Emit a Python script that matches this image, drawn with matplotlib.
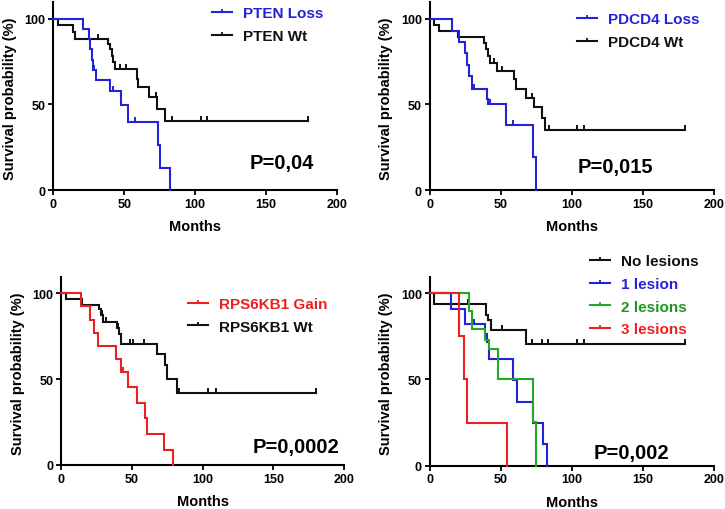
import matplotlib
matplotlib.use('Agg')
import matplotlib.pyplot as plt
from matplotlib.path import Path
from matplotlib.lines import Line2D
import numpy as np

plt.rcParams['font.family'] = ['Liberation Sans', 'DejaVu Sans']
plt.rcParams['font.weight'] = 'bold'

# ---------------- data ----------------
x_ticks = [0, 50, 100, 150, 200]
y_ticks = [0, 50, 100]
x_label = "Months"
y_label = "Survival probability (%)"

# Panel A: PTEN
pten_loss_t = [0, 21, 25, 26, 27, 28, 30, 40, 48, 53, 74, 75, 82.5]
pten_loss_s = [100, 93.8, 88, 82, 76, 70, 64, 58, 49.5, 39.5, 26.5, 13, 0]
pten_loss_c = [28.5, 42, 58]
pten_wt_t = [0, 3.5, 13.7, 15.3, 38.8, 40, 41.6, 42.4, 43.5, 59, 60, 67.8, 73, 78.5, 180]
pten_wt_s = [100, 96.2, 92.3, 88.2, 85, 82, 78, 74.5, 70.5, 65, 60, 54, 47.5, 40.5, 40.5]
pten_wt_c = [25.4, 31.8, 47, 51.5, 72.5, 83.5, 104, 108.7, 180]

# Panel B: PDCD4
pdcd4_loss_t = [0, 15.4, 20.7, 25, 26.3, 27.8, 29.5, 40, 41, 54, 73, 75]
pdcd4_loss_s = [100, 93, 86.2, 80, 73, 66.5, 59.2, 53, 50.4, 37.8, 19, 0]
pdcd4_loss_c = [31, 42.5, 58.7]
pdcd4_wt_t = [0, 2.8, 6.8, 20, 38.5, 39.7, 41, 42.5, 47.4, 59.2, 60.8, 67.8, 73.7, 79.1, 81.5, 180]
pdcd4_wt_s = [100, 96.2, 92.5, 89.5, 85.9, 82, 78, 73.8, 69.4, 64.5, 59, 53.5, 48.4, 41.9, 34.9, 34.9]
pdcd4_wt_c = [45, 51, 72, 83.8, 103.8, 108.5, 180]

# Panel C: RPS6KB1
rps_gain_t = [0, 14, 20.5, 23.5, 26.3, 38.8, 42.1, 47.1, 53.4, 59.3, 60.5, 73, 78.8]
rps_gain_s = [100, 92.3, 84.6, 76.9, 69.2, 61.5, 53.8, 45.5, 36, 27.2, 18, 9, 0]
rps_gain_c = [44]
rps_wt_t = [0, 3.5, 14.6, 26.5, 28, 30, 39.3, 41, 42.7, 67.5, 73.4, 74.6, 81.6, 180]
rps_wt_s = [100, 96.6, 93.2, 90.5, 87, 83, 79.5, 76.3, 70.5, 64.5, 58, 50, 42, 42]
rps_wt_c = [29, 31.5, 40.5, 48.7, 51, 58.6, 83.5, 104, 109.4, 180]

# Panel D: number of lesions
nolesion_t = [0, 3, 39.5, 41.3, 43, 67.8, 180]
nolesion_s = [100, 93.7, 87.5, 84.5, 78.5, 70.6, 70.6]
nolesion_c = [27, 51, 72, 79, 83.3, 103.8, 108.5, 180]
lesion1_t = [0, 15.3, 25.1, 39, 40, 41.8, 58.9, 61.3, 73, 80, 82.6]
lesion1_s = [100, 91, 82, 76.5, 71.5, 62, 49.5, 37, 24.8, 12.4, 0]
lesion1_c = [31, 48.3]
lesion2_t = [0, 27.9, 30, 39, 42, 48.2, 72.8, 74.9]
lesion2_s = [100, 89.5, 79, 73, 67.9, 50.3, 25.2, 0]
lesion2_c = []
lesion3_t = [0, 20.9, 24.2, 26, 54.2]
lesion3_s = [100, 75, 50, 25, 0]
lesion3_c = []

p_values = ["P=0,04", "P=0,015", "P=0,0002", "P=0,002"]

BLUE = '#2323d8'
RED = '#ec2020'
GREEN = '#22aa22'
BLACK = '#111111'
GREEN_TXT = '#1f961f'

W, H = 725, 510
fig = plt.figure(figsize=(7.25, 5.1), dpi=100)

tick_marker = Path([(0, 0), (0, 1)])


def surv_at(t_arr, s_arr, tc):
    t_arr = np.asarray(t_arr, float)
    s_arr = np.asarray(s_arr, float)
    idx = np.searchsorted(t_arr, np.asarray(tc, float), side='right') - 1
    return s_arr[np.clip(idx, 0, len(s_arr) - 1)]


panels = [
    dict(box=(53.3, 336.7, 191, 3.3),
         curves=[("PTEN Wt", pten_wt_t, pten_wt_s, pten_wt_c, BLACK, BLACK),
                 ("PTEN Loss", pten_loss_t, pten_loss_s, pten_loss_c, BLUE, BLUE)],
         order=[1, 0], leg=(212, 7.5), ptxt=(250, 164)),
    dict(box=(429.7, 713.7, 191, 3.3),
         curves=[("PDCD4 Wt", pdcd4_wt_t, pdcd4_wt_s, pdcd4_wt_c, BLACK, BLACK),
                 ("PDCD4 Loss", pdcd4_loss_t, pdcd4_loss_s, pdcd4_loss_c, BLUE, BLUE)],
         order=[1, 0], leg=(577, 13.5), ptxt=(578, 167.5)),
    dict(box=(61, 344.3, 466, 277.7),
         curves=[("RPS6KB1 Wt", rps_wt_t, rps_wt_s, rps_wt_c, BLACK, BLACK),
                 ("RPS6KB1 Gain", rps_gain_t, rps_gain_s, rps_gain_c, RED, RED)],
         order=[1, 0], leg=(188, 298), ptxt=(253, 447.5)),
    dict(box=(429.7, 713.7, 466.7, 277.7),
         curves=[("No lesions", nolesion_t, nolesion_s, nolesion_c, BLACK, BLACK),
                 ("1 lesion", lesion1_t, lesion1_s, lesion1_c, BLUE, BLUE),
                 ("2 lesions", lesion2_t, lesion2_s, lesion2_c, GREEN, GREEN_TXT),
                 ("3 lesions", lesion3_t, lesion3_s, lesion3_c, RED, RED)],
         order=[0, 1, 2, 3], leg=(590, 255.5), ptxt=(594, 454)),
]

for i, p in enumerate(panels):
    x0, x200, y0, ytop = p['box']
    ax = fig.add_axes([x0 / W, 1 - y0 / H, (x200 - x0) / W, (y0 - ytop) / H])
    handles = []
    for (lab, t, s, c, col, tcol) in p['curves']:
        ax.step(t, s, where='post', color=col, lw=1.5, solid_joinstyle='miter', clip_on=False, zorder=3)
        if len(c):
            ax.plot(c, surv_at(t, s, c), linestyle='none', marker=tick_marker, ms=7, mew=1.4,
                    color=col, clip_on=False, zorder=3)
        handles.append(Line2D([0], [0], color=col, lw=1.5, marker=tick_marker, ms=5, mew=1.3))
    ax.set_xlim(0, 200)
    ax.set_ylim(0, 109.5)
    ax.set_xticks(x_ticks)
    ax.set_yticks(y_ticks)
    for sp in ['top', 'right']:
        ax.spines[sp].set_visible(False)
    for sp in ['left', 'bottom']:
        ax.spines[sp].set_linewidth(1.5)
        ax.spines[sp].set_color('black')
    ax.tick_params(direction='out', length=3.6, width=1.3, labelsize=9, pad=2)
    for lbl in ax.get_xticklabels() + ax.get_yticklabels():
        lbl.set_fontweight('bold')
    ax.set_xlabel(x_label, fontsize=10.5, fontweight='bold')
    ax.set_ylabel(y_label, fontsize=10.5, fontweight='bold')
    ax.xaxis.set_label_coords(0.5, -0.155)
    ax.yaxis.set_label_coords(-0.128, 0.49)

    order = p['order']
    lx, ly = p['leg']
    leg = ax.legend([handles[k] for k in order], [p['curves'][k][0] for k in order],
                    loc='upper left', bbox_to_anchor=(lx / W, 1 - ly / H),
                    bbox_transform=fig.transFigure, frameon=False, borderpad=0,
                    borderaxespad=0, handlelength=1.3, handletextpad=0.7,
                    labelspacing=0.56, numpoints=1,
                    prop=dict(size=11, weight='bold'))
    for txt, k in zip(leg.get_texts(), order):
        txt.set_color(p['curves'][k][5])

    px, py = p['ptxt']
    fig.text(px / W, 1 - py / H, p_values[i], ha='left', va='center',
             fontsize=14.5, fontweight='bold')

fig.savefig('out.png', dpi=100)
